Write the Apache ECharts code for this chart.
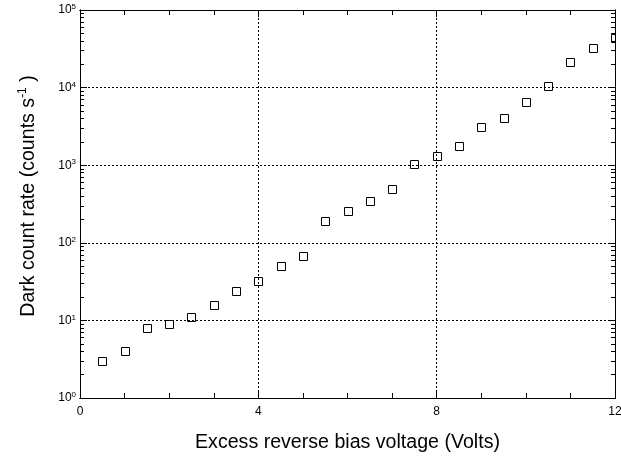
<!DOCTYPE html>
<html>
<head>
<meta charset="utf-8">
<script src="https://cdn.jsdelivr.net/npm/echarts@6/dist/echarts.min.js"></script>
<style>
  html, body { margin: 0; padding: 0; background: #fff; }
  #chart { width: 621px; height: 459px; }
</style>
</head>
<body>
<div id="chart"></div>
<script>
// bias voltage (V) and dark count rate (counts/s)
var voltage = [0.5, 1, 1.5, 2, 2.5, 3, 3.5, 4, 4.5, 5, 5.5, 6,
  6.5, 7, 7.5, 8, 8.5, 9, 9.5, 10, 10.5, 11, 11.5, 12];
var darkCounts = [3, 4, 8, 9, 11, 16, 24, 32, 50, 68, 190, 260,
  350, 490, 1030, 1330, 1780, 3100, 4000, 6600, 10400, 21500, 32000, 43000];
var xTicks = [0, 4, 8, 12];
var xMinor = [1, 2, 3, 5, 6, 7, 9, 10, 11];
var yDecades = [1, 10, 100, 1000, 10000, 100000];

var chart = echarts.init(document.getElementById('chart'));

// minor ticks at 2..9 of each decade
var yMinor = [];
for (var d = 0; d < yDecades.length - 1; d++) {
  for (var k = 2; k <= 9; k++) yMinor.push(k * yDecades[d]);
}

var points = voltage.map(function (v, i) { return [v, darkCounts[i]]; });

var font = 'Liberation Sans, Arial, sans-serif';
var dotted = { color: '#000', width: 1, type: [2, 2] };

function xAxisBase(pos, ticks, len) {
  return {
    type: 'value', position: pos, min: xTicks[0], max: xTicks[xTicks.length - 1], interval: 4,
    axisLine: { show: true, onZero: false, lineStyle: { color: '#000', width: 1 } },
    axisTick: { show: true, inside: true, length: len, customValues: ticks, lineStyle: { color: '#000' } },
    axisLabel: { show: false },
    splitLine: { show: false }
  };
}

function yAxisBase(pos, ticks, len) {
  return {
    type: 'log', logBase: 10, position: pos, min: 1, max: 100000,
    axisLine: { show: true, onZero: false, lineStyle: { color: '#000', width: 1 } },
    axisTick: { show: true, inside: true, length: len, customValues: ticks, lineStyle: { color: '#000' } },
    axisLabel: { show: false },
    splitLine: { show: false }
  };
}

var xBottom = xAxisBase('bottom', xTicks, 7);
xBottom.axisLabel = { show: true, color: '#000', fontFamily: font, fontSize: 12, margin: 8 };
xBottom.splitLine = { show: true, lineStyle: dotted };
xBottom.name = 'Excess reverse bias voltage (Volts)';
xBottom.nameLocation = 'middle';
xBottom.nameGap = 35;
xBottom.nameTextStyle = { color: '#000', fontFamily: font, fontSize: 19.6 };

var yLeft = yAxisBase('left', yDecades, 7);
yLeft.axisLabel = {
  show: true, margin: 4, customValues: yDecades,
  formatter: function (v) {
    return '{b|10}{s|' + Math.round(Math.log10(v)) + '}';
  },
  rich: {
    b: { color: '#000', fontFamily: font, fontSize: 12, lineHeight: 14 },
    s: { color: '#000', fontFamily: font, fontSize: 8, verticalAlign: 'top', padding: [0, 0, 6, 0] }
  }
};
yLeft.splitLine = { show: true, lineStyle: dotted };
yLeft.name = 'Dark count rate (counts s{sup|-1}{n| )}';
yLeft.nameLocation = 'middle';
yLeft.nameGap = 39;
yLeft.nameTextStyle = {
  color: '#000', fontFamily: font, fontSize: 19.6, padding: [0, 0, 0, 16],
  rich: {
    sup: { color: '#000', fontFamily: font, fontSize: 12, verticalAlign: 'top', padding: [0, 0, 12, 0] },
    n: { color: '#000', fontFamily: font, fontSize: 19.6 }
  }
};

var option = {
  backgroundColor: '#fff',
  animation: false,
  grid: { left: 80, right: 6, top: 10, bottom: 61, containLabel: false, outerBoundsMode: 'none' },
  xAxis: [
    xBottom,
    xAxisBase('bottom', xMinor, 5),
    xAxisBase('top', xTicks, 7),
    xAxisBase('top', xMinor, 5)
  ],
  yAxis: [
    yLeft,
    yAxisBase('left', yMinor, 4),
    yAxisBase('right', yDecades, 7),
    yAxisBase('right', yMinor, 4)
  ],
  series: [{
    type: 'custom',
    clip: true,
    xAxisIndex: 0,
    yAxisIndex: 0,
    data: points,
    renderItem: function (params, api) {
      var p = api.coord([api.value(0), api.value(1)]);
      var s = 8;
      return {
        type: 'rect',
        shape: { x: Math.round(p[0] - s / 2) + 0.5, y: Math.round(p[1] - s / 2) + 0.5, width: s, height: s },
        style: { fill: 'none', stroke: '#000', lineWidth: 1 }
      };
    }
  }]
};

chart.setOption(option);
</script>
</body>
</html>
